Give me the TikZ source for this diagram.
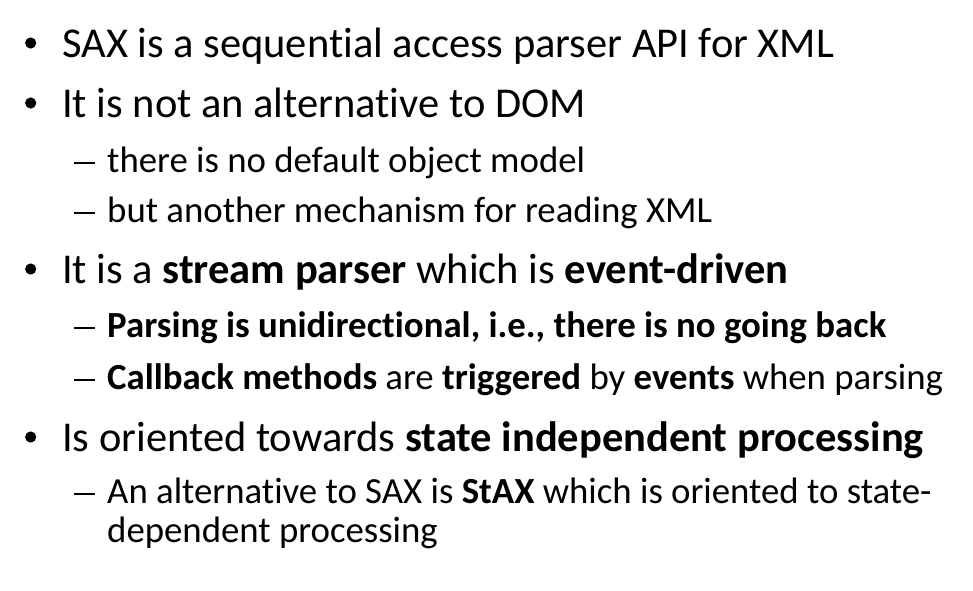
\documentclass[tikz,border=0pt]{standalone}
\usepackage{fontspec}
\setmainfont{Carlito}[Ligatures=NoCommon]
\tikzset{
	lvlone/.style={anchor=base west, inner sep=0pt, font=\fontsize{42.5}{50}\selectfont},
	lvltwo/.style={anchor=base west, inner sep=0pt, font=\fontsize{36.8}{44}\selectfont},
}
\begin{document}
\begin{tikzpicture}[x=1pt,y=-1pt]
		\useasboundingbox (0,0) rectangle (973,590);
		\foreach \y in {57, 117, 283, 451}
			\fill (30.7,\y-14) circle[radius=5.6pt];
		\foreach \y in {172, 222, 337, 389, 503}
			\draw[line width=2.6pt] (74,\y-9) -- (95,\y-9);
		
		\node[lvlone] (itema) at (62,57) {SAX is a sequential access parser API for XML};
		\node[lvlone] (itemb) at (62,117) {It is not an alternative to DOM};
		\node[lvltwo] (suba) at (107,172) {there is no default object model};
		\node[lvltwo] (subb) at (107,222) {but another mechanism for reading XML};
		\node[lvlone] (itemc) at (62,283) {It is a \textbf{stream parser} which is \textbf{event-driven}};
		\node[lvltwo] (subc) at (107,337) {\textbf{Parsing is unidirectional, i.e., there is no going back}};
		\node[lvltwo] (subd) at (107,389) {\textbf{Callback methods} are \textbf{triggered} by \textbf{events} when parsing};
		\node[lvlone] (itemd) at (62,451) {Is oriented towards \textbf{state independent processing}};
		\node[lvltwo] (sube) at (107,503) {An alternative to SAX is \textbf{StAX} which is oriented to state-};
		\node[lvltwo] (subf) at (107,542) {dependent processing};
	\end{tikzpicture}
\end{document}
